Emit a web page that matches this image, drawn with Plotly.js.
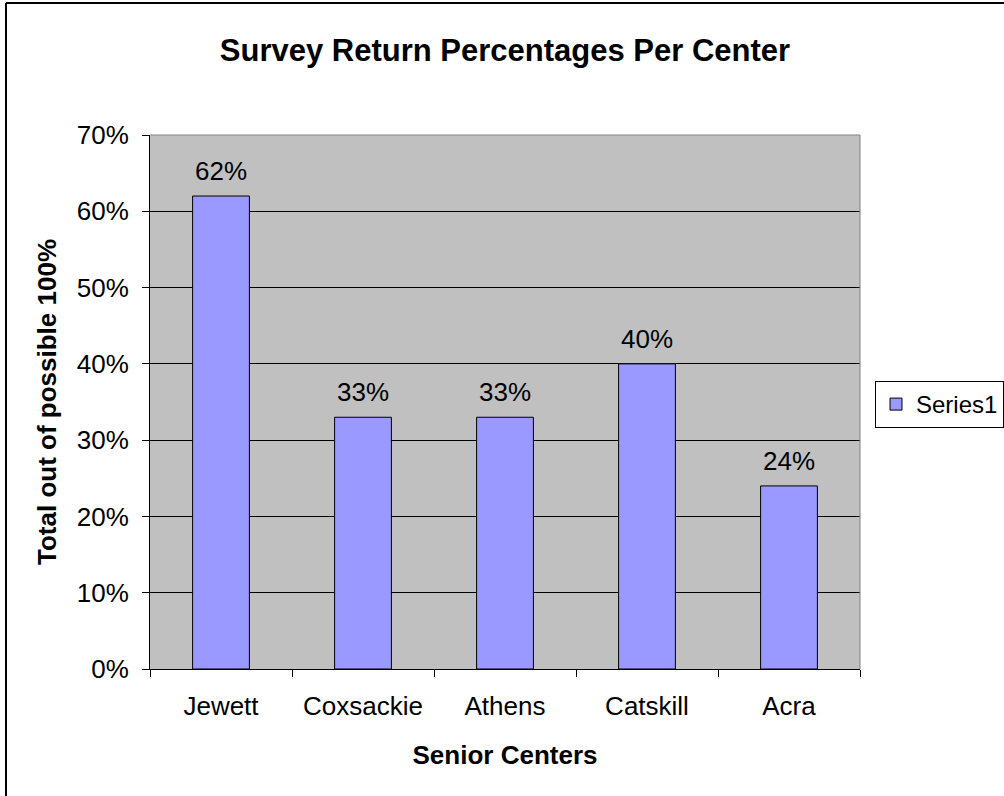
<!DOCTYPE html>
<html>
<head>
<meta charset="utf-8">
<script src="https://cdn.plot.ly/plotly-3.0.1.min.js"></script>
<style>
html,body{margin:0;padding:0;background:#fff;}
#chart{width:1004px;height:796px;}
</style>
</head>
<body>
<div id="chart"></div>
<script>
const categories = ["Jewett", "Coxsackie", "Athens", "Catskill", "Acra"];
const values = [0.62, 0.33, 0.33, 0.40, 0.24];
const labels = ["62%", "33%", "33%", "40%", "24%"];
const seriesName = "Series1";

const FONT = "Liberation Sans, Arial, sans-serif";

const trace = {
  type: "bar",
  x: categories,
  y: values,
  name: seriesName,
  width: 0.4,
  marker: {color: "#9999FF", line: {color: "#000000", width: 1}},
  hoverinfo: "x+y",
  showlegend: true
};

const annotations = categories.map((c, i) => ({
  x: c, y: values[i], xref: "x", yref: "y",
  text: labels[i], showarrow: false,
  yanchor: "bottom", yshift: 8,
  font: {family: FONT, size: 26, color: "#000"}
}));

const layout = {
  width: 1004, height: 796,
  margin: {l: 150, r: 144, t: 135, b: 127, autoexpand: false},
  paper_bgcolor: "#ffffff",
  plot_bgcolor: "#C0C0C0",
  font: {family: FONT, size: 26, color: "#000"},
  title: {
    text: "<b>Survey Return Percentages Per Center</b>",
    font: {family: FONT, size: 31, color: "#000"},
    x: 0.5, xref: "paper", y: 1 - 50/796, yref: "container", yanchor: "middle"
  },
  xaxis: {
    type: "category",
    showline: true, linecolor: "#000", linewidth: 1,
    ticks: "outside", tickson: "boundaries", ticklen: 7, tickcolor: "#000",
    ticklabelstandoff: 14,
    showgrid: false,
    tickfont: {family: FONT, size: 26},
    title: {text: "<b>Senior Centers</b>", font: {family: FONT, size: 26}, standoff: 25},
    fixedrange: true
  },
  yaxis: {
    range: [0, 0.7], dtick: 0.1, tick0: 0, tickformat: ".0%",
    showline: true, linecolor: "#000", linewidth: 1,
    ticks: "outside", ticklen: 7, tickcolor: "#000",
    ticklabelstandoff: 8,
    showgrid: true, gridcolor: "#000", gridwidth: 1,
    zeroline: false,
    tickfont: {family: FONT, size: 26},
    title: {text: "<b>Total out of possible 100%</b>", font: {family: FONT, size: 26}, standoff: 12},
    fixedrange: true
  },
  legend: {
    x: (875 - 150) / 710, xanchor: "left",
    y: (669 - 381) / 534, yanchor: "top",
    bordercolor: "#000", borderwidth: 1, bgcolor: "#fff",
    font: {family: FONT, size: 24}
  },
  annotations: annotations,
  shapes: [
    {type: "line", xref: "paper", yref: "paper", x0: 0, x1: 1, y0: 1, y1: 1, line: {color: "#808080", width: 1}},
    {type: "line", xref: "paper", yref: "paper", x0: 1, x1: 1, y0: 0, y1: 1, line: {color: "#808080", width: 1}},
    {type: "line", xref: "paper", yref: "paper", x0: (6 - 150) / 710, x1: (6 - 150) / 710, y0: (669 - 3) / 534, y1: (669 - 810) / 534, line: {color: "#000", width: 2}},
    {type: "line", xref: "paper", yref: "paper", x0: (6 - 150) / 710, x1: (1020 - 150) / 710, y0: (669 - 3) / 534, y1: (669 - 3) / 534, line: {color: "#000", width: 2}}
  ],
  bargap: 0.6
};

Plotly.newPlot("chart", [trace], layout, {displayModeBar: false, staticPlot: true});
</script>
</body>
</html>
